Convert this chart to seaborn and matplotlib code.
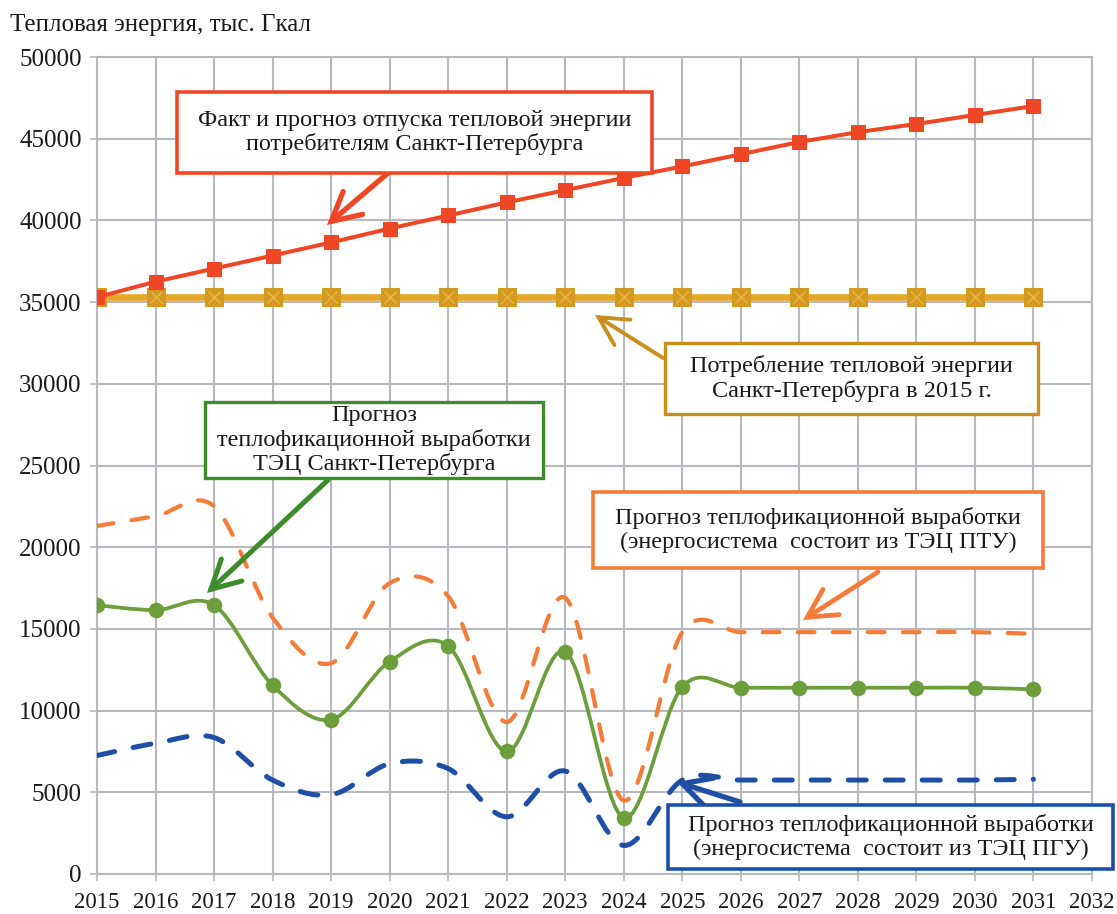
import numpy as np
import pandas as pd
import matplotlib
matplotlib.use("Agg")
import matplotlib.pyplot as plt
import seaborn as sns
from matplotlib.path import Path
from matplotlib.patches import PathPatch, Rectangle

# ---- data (тыс. Гкал) ----
years = list(range(2015, 2032))
supply_fact_forecast = [35300, 36250, 37050, 37850, 38650, 39500, 40300, 41100, 41850,
                        42600, 43300, 44050, 44800, 45400, 45900, 46450, 47000]
consumption_2015 = [35300] * 17
chp_spb_forecast = [16450, 16150, 16450, 11550, 9450, 13000, 13950, 7500, 13600,
                    3450, 11450, 11400, 11400, 11400, 11400, 11400, 11300]
ptu_forecast = [21300, 21900, 22500, 15700, 12900, 17800, 17000, 9300, 16900,
                4500, 14800, 14800, 14800, 14800, 14800, 14800, 14700]
pgu_forecast = [7250, 8000, 8350, 5750, 4850, 6750, 6450, 3500, 6300,
                1750, 5750, 5750, 5750, 5750, 5750, 5750, 5800]
x_ticks = list(range(2015, 2033))
y_ticks = list(range(0, 50001, 5000))

df = pd.DataFrame({
    "year": years,
    "supply": supply_fact_forecast,
    "base": consumption_2015,
    "chp": chp_spb_forecast,
    "ptu": ptu_forecast,
    "pgu": pgu_forecast,
})

sns.set_style("white")
plt.rcParams["font.family"] = ["Liberation Serif", "DejaVu Serif"]

W, H = 1117, 914
fig = plt.figure(figsize=(W / 100, H / 100), dpi=100)
ax = fig.add_axes([97 / W, 1 - 874 / H, (1092 - 97) / W, (874 - 57) / H])

RED = "#ef4626"
GOLD = "#e6a82a"
GOLD_MARK = "#d39a20"
GOLD_DARK = "#c98f1a"
GREEN = "#6c9e3c"
GREEN_DARK = "#3d8c2c"
ORANGE = "#f47c38"
BLUE = "#1f4ea6"
GRID = "#b8b8c0"
TEXT = "#1a1a1a"


def smooth_path(xs, ys):
    """Piecewise cubic Bezier through the points (spreadsheet-style smoothing)."""
    p = np.column_stack([xs, ys]).astype(float)
    n = len(p)
    verts = [p[0]]
    codes = [Path.MOVETO]
    for i in range(n - 1):
        p0 = p[i - 1] if i > 0 else p[i]
        p3 = p[i + 2] if i + 2 < n else p[i + 1]
        c1 = p[i] + (p[i + 1] - p0) / 6.0
        c2 = p[i + 1] - (p3 - p[i]) / 6.0
        verts += [c1, c2, p[i + 1]]
        codes += [Path.CURVE4] * 3
    return Path(verts, codes)


# smoothed forecast curves
ax.add_patch(PathPatch(smooth_path(df.year, df.ptu), fill=False, ec=ORANGE, lw=3.0,
                       linestyle=(0, (4.0, 4.4)), capstyle="round", zorder=3))
ax.add_patch(PathPatch(smooth_path(df.year, df.pgu), fill=False, ec=BLUE, lw=3.6,
                       linestyle=(0, (3.6, 3.8)), capstyle="round", zorder=3))
ax.add_patch(PathPatch(smooth_path(df.year, df.chp), fill=False, ec=GREEN, lw=2.7,
                       zorder=4))
sns.scatterplot(data=df, x="year", y="chp", ax=ax, color=GREEN, s=125,
                edgecolor=GREEN, linewidth=0, zorder=5, legend=False)

# 2015 consumption level
sns.lineplot(data=df, x="year", y="base", ax=ax, color=GOLD, lw=4.8, marker="s",
             markersize=12.5, markerfacecolor=GOLD_MARK, markeredgecolor=GOLD_MARK,
             zorder=4, legend=False)
sns.scatterplot(data=df, x="year", y="base", ax=ax, marker="x", color="#eab64a",
                s=75, linewidth=1.0, zorder=5, legend=False)

# heat supply, fact and forecast
sns.lineplot(data=df, x="year", y="supply", ax=ax, color=RED, lw=2.9, marker="s",
             markersize=9.5, markerfacecolor=RED, markeredgecolor=RED, zorder=6,
             legend=False)

# axes styling
ax.set_xlim(2015, 2032)
ax.set_ylim(0, 50000)
ax.set_xticks(x_ticks)
ax.set_yticks(y_ticks)
ax.set_xticklabels([str(v) for v in x_ticks], fontsize=16.5)
ax.set_yticklabels([str(v) for v in y_ticks], fontsize=18)
ax.set_xlabel("")
ax.set_ylabel("")
ax.grid(True, color=GRID, lw=1.5, zorder=0)
ax.set_axisbelow(True)
for sp in ax.spines.values():
    sp.set_visible(True)
    sp.set_color(GRID)
    sp.set_linewidth(1.5)
ax.tick_params(axis="x", direction="out", length=5, width=1.2, color=GRID, pad=8,
               bottom=True, labelcolor=TEXT)
ax.tick_params(axis="y", direction="out", length=5, width=1.2, color=GRID, pad=6,
               left=True, labelcolor=TEXT)

fig.text(10 / W, 1 - 25 / H, "Тепловая энергия, тыс. Гкал", fontsize=18,
         va="center", ha="left", color=TEXT)


def fpos(px, py):
    return (px / W, 1 - py / H)


def callout(x0, y0, x1, y1, text, color, lw=2.2):
    fx, fy = fpos(x0, y1)
    rect = Rectangle((fx, fy), (x1 - x0) / W, (y1 - y0) / H, transform=fig.transFigure,
                     facecolor="white", edgecolor=color, lw=lw, zorder=8)
    fig.add_artist(rect)
    cx, cy = fpos((x0 + x1) / 2, (y0 + y1) / 2)
    fig.text(cx, cy, text, ha="center", va="center", fontsize=17.5, color=TEXT,
             linespacing=1.12, zorder=9)


def arrow(tail, head, color, lw):
    ax.annotate("", xy=fpos(*head), xycoords="figure fraction",
                xytext=fpos(*tail), textcoords="figure fraction",
                arrowprops=dict(arrowstyle="->, head_length=0.85, head_width=0.45",
                                color=color, lw=lw, shrinkA=0, shrinkB=0,
                                mutation_scale=24, capstyle="round",
                                joinstyle="miter"),
                zorder=7, annotation_clip=False)


callout(177, 92, 652, 173,
        "Факт и прогноз отпуска тепловой энергии\nпотребителям Санкт-Петербурга", RED, 2.6)
arrow((388, 173), (327, 225), RED, 3.8)

callout(665, 343, 1038, 414,
        "Потребление тепловой энергии\nСанкт-Петербурга в 2015 г.", GOLD_DARK, 2.4)
arrow((663, 358), (595, 315), GOLD_DARK, 2.8)

callout(205, 402, 543, 478,
        "Прогноз\nтеплофикационной выработки\nТЭЦ Санкт-Петербурга", GREEN_DARK, 2.4)
arrow((328, 480), (207, 593), GREEN_DARK, 3.6)

callout(593, 492, 1043, 568,
        "Прогноз теплофикационной выработки\n(энергосистема  состоит из ТЭЦ ПТУ)", ORANGE, 2.6)
arrow((878, 572), (803, 620), ORANGE, 3.4)

callout(668, 805, 1113, 869,
        "Прогноз теплофикационной выработки\n(энергосистема  состоит из ТЭЦ ПГУ)", BLUE, 2.6)
arrow((740, 802), (677, 782), BLUE, 3.8)

fig.savefig("out.png", dpi=100)
